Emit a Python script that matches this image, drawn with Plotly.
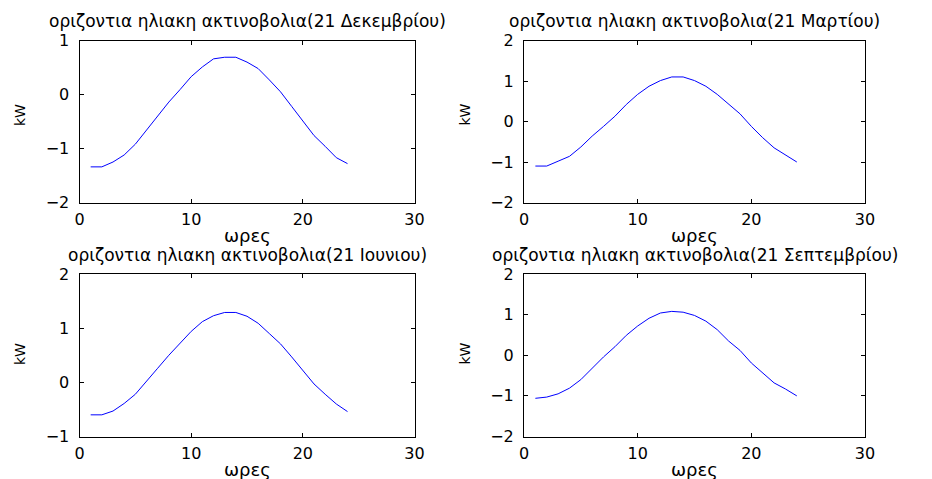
import plotly.graph_objects as go

hours = list(range(1, 25))

dec = [-1.34, -1.34, -1.25, -1.12, -0.92, -0.66, -0.40, -0.14, 0.09, 0.33, 0.51, 0.66,
       0.69, 0.69, 0.60, 0.48, 0.27, 0.05, -0.22, -0.49, -0.76, -0.96, -1.17, -1.28]
mar = [-1.10, -1.10, -0.98, -0.86, -0.63, -0.36, -0.12, 0.13, 0.42, 0.67, 0.87, 1.01,
       1.10, 1.10, 1.01, 0.87, 0.67, 0.42, 0.19, -0.12, -0.40, -0.65, -0.83, -1.00]
jun = [-0.60, -0.60, -0.53, -0.39, -0.22, 0.01, 0.26, 0.50, 0.72, 0.94, 1.12, 1.23,
       1.29, 1.29, 1.22, 1.09, 0.90, 0.71, 0.47, 0.23, -0.03, -0.22, -0.40, -0.54]
sep = [-1.06, -1.03, -0.95, -0.81, -0.60, -0.31, -0.04, 0.21, 0.49, 0.72, 0.91, 1.04,
       1.08, 1.06, 0.98, 0.84, 0.63, 0.35, 0.12, -0.19, -0.44, -0.68, -0.83, -1.00]

titles = ["οριζοντια ηλιακη ακτινοβολια(21 Δεκεμβρίου)",
          "οριζοντια ηλιακη ακτινοβολια(21 Μαρτίου)",
          "οριζοντια ηλιακη ακτινοβολια(21 Ιουνιου)",
          "οριζοντια ηλιακη ακτινοβολια(21 Σεπτεμβρίου)"]
series = [dec, mar, jun, sep]
y_ranges = [[-2, 1], [-2, 2], [-1, 2], [-2, 2]]
x_range = [0, 30]
x_ticks = [0, 10, 20, 30]
x_label = "ωρες"
y_label = "kW"

W, H = 932, 479
FONT = "DejaVu Sans, Liberation Sans, Arial, sans-serif"

boxes = [(79.5, 414.5, 40.5, 202.5), (524, 865, 40.5, 202.5),
         (79.5, 414.5, 274, 436.5), (524, 865, 274, 436.5)]
title_y = [21.5, 21.5, 255.5, 255.5]
xlab_y = [235.5, 235.5, 469, 469]
ylab_y = [115, 115, 354, 354]

fig = go.Figure()
annotations = []
for i, (ys, yr, box, t) in enumerate(zip(series, y_ranges, boxes, titles)):
    n = "" if i == 0 else str(i + 1)
    l, r, tp, b = box
    fig.add_trace(go.Scatter(x=hours, y=ys, mode="lines",
                             line=dict(color="#0000ff", width=1),
                             xaxis="x" + n, yaxis="y" + n, showlegend=False,
                             hoverinfo="skip"))
    common = dict(showline=True, linecolor="black", linewidth=1, mirror="allticks",
                  ticks="inside", ticklen=4, tickcolor="black", showgrid=False,
                  zeroline=False, automargin=False,
                  tickfont=dict(family=FONT, size=16, color="black"))
    fig.layout["xaxis" + n] = dict(domain=[l / W, r / W], range=x_range,
                                   tickvals=x_ticks, anchor="y" + n,
                                   ticklabelstandoff=2, **common)
    fig.layout["yaxis" + n] = dict(domain=[1 - b / H, 1 - tp / H], range=yr,
                                   dtick=1, anchor="x" + n,
                                   ticklabelstandoff=6, **common)
    cx = (l + r) / 2
    annotations.append(dict(text=t, x=cx / W, y=1 - title_y[i] / H, xref="paper",
                            yref="paper", xanchor="center", yanchor="middle",
                            showarrow=False,
                            font=dict(family=FONT, size=17, color="black")))
    annotations.append(dict(text=x_label, x=cx / W, y=1 - xlab_y[i] / H, xref="paper",
                            yref="paper", xanchor="center", yanchor="middle",
                            showarrow=False,
                            font=dict(family=FONT, size=18, color="black")))
    annotations.append(dict(text=y_label, x=(l - 59.5) / W, y=1 - ylab_y[i] / H,
                            xref="paper", yref="paper", xanchor="center",
                            yanchor="middle", textangle=-90, showarrow=False,
                            font=dict(family=FONT, size=14, color="black")))

fig.update_layout(width=W, height=H,
                  margin=dict(l=0, r=0, t=0, b=0, pad=0, autoexpand=False),
                  paper_bgcolor="white", plot_bgcolor="white",
                  annotations=annotations)
fig.write_html("out.html")
